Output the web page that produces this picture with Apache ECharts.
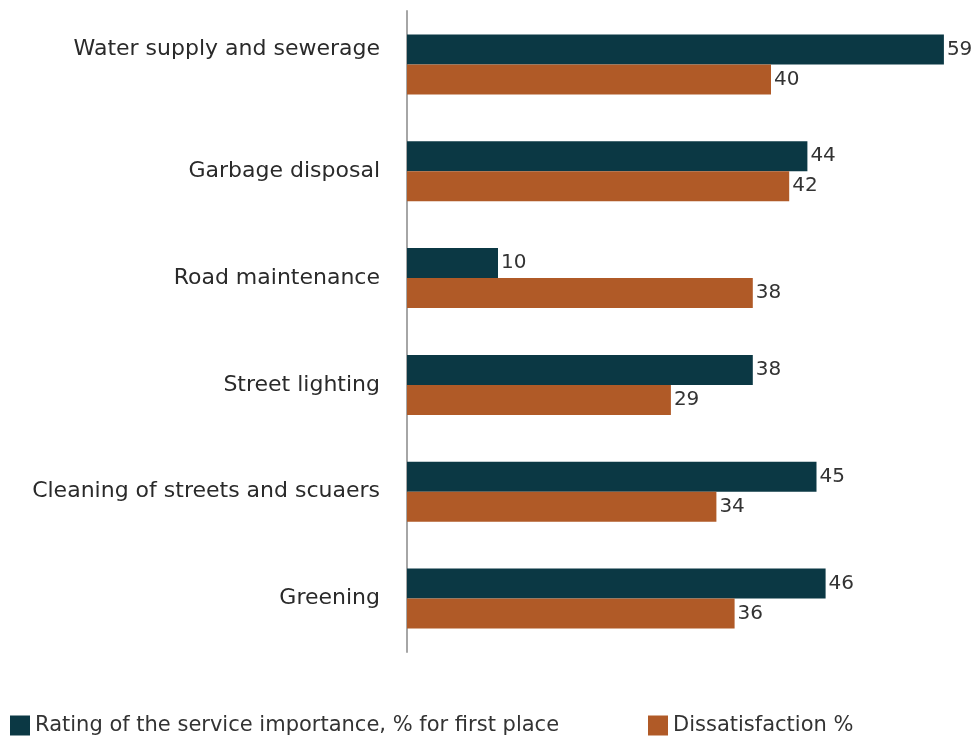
<!DOCTYPE html>
<html>
<head>
<meta charset="utf-8">
<script src="https://cdn.jsdelivr.net/npm/echarts@6/dist/echarts.min.js"></script>
<style>
  html, body { margin: 0; padding: 0; background: #fff; }
  #chart { width: 972px; height: 736px; }
</style>
</head>
<body>
<div id="chart"></div>
<script>
const categories = [
  "Water supply and sewerage",
  "Garbage disposal",
  "Road maintenance",
  "Street lighting",
  "Cleaning of streets and scuaers",
  "Greening"
];
const importance = [59, 44, 10, 38, 45, 46];
const dissatisfaction = [40, 42, 38, 29, 34, 36];
const seriesNames = ["Rating of the service importance, % for first place", "Dissatisfaction %"];

const font = "DejaVu Sans";
const chart = echarts.init(document.getElementById("chart"));

const labelStyle = {
  show: true,
  position: "right",
  distance: 3,
  color: "#333",
  fontFamily: font,
  fontSize: 20
};

const legendText = { fontSize: 21, color: "#333", fontFamily: font, padding: [0, 0, 0, 0] };

chart.setOption({
  animation: false,
  textStyle: { fontFamily: font },
  legend: [
    {
      data: [seriesNames[0]],
      left: 10,
      top: 715,
      padding: 0,
      itemWidth: 20,
      itemHeight: 20,
      icon: "rect",
      textStyle: legendText
    },
    {
      data: [seriesNames[1]],
      left: 648,
      top: 715,
      padding: 0,
      itemWidth: 20,
      itemHeight: 20,
      icon: "rect",
      textStyle: legendText
    }
  ],
  grid: { left: 407, right: 19, top: 11, bottom: 84, containLabel: false },
  xAxis: {
    type: "value",
    min: 0,
    max: 60,
    show: false
  },
  yAxis: {
    type: "category",
    data: categories,
    inverse: true,
    axisLine: { show: true, lineStyle: { color: "#a6a6a6", width: 2 } },
    axisTick: { show: false },
    axisLabel: {
      color: "#2a2a2a",
      fontSize: 22,
      fontFamily: font,
      margin: 27,
      // first label sits a bit higher in the original
      formatter: (v, i) => i === 0 ? "{up|" + v + "}" : v,
      rich: { up: { fontSize: 22, fontFamily: font, color: "#2a2a2a", padding: [0, 0, 30, 0] } }
    }
  },
  series: [
    {
      name: seriesNames[0],
      type: "bar",
      data: importance,
      barWidth: 30,
      barGap: "0%",
      itemStyle: { color: "#0b3844" },
      label: labelStyle
    },
    {
      name: seriesNames[1],
      type: "bar",
      data: dissatisfaction,
      barWidth: 30,
      barGap: "0%",
      itemStyle: { color: "#b05a27" },
      label: labelStyle
    }
  ]
});
</script>
</body>
</html>
